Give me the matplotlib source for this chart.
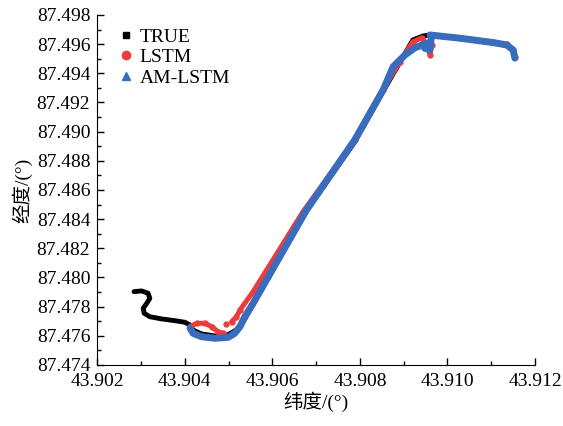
import matplotlib
matplotlib.use("Agg")
import matplotlib.pyplot as plt
from matplotlib.lines import Line2D
from matplotlib.ticker import MultipleLocator, FormatStrFormatter
import numpy as np

plt.rcParams['font.family'] = ['Liberation Serif', 'Noto Sans CJK SC', 'DejaVu Sans']

# TRUE trajectory (latitude, longitude)
true_lat = [43.90284, 43.90301, 43.90316, 43.90320, 43.90313, 43.90305, 43.90307,
            43.90320, 43.90347, 43.90377, 43.90400, 43.90412, 43.90419, 43.90438,
            43.90469, 43.90498, 43.90517, 43.90533, 43.90676, 43.90788, 43.90852,
            43.90921, 43.90944, 43.90960, 43.91028, 43.91103, 43.91135, 43.91149,
            43.91154]
true_lon = [87.47903, 87.47908, 87.47892, 87.47857, 87.47823, 87.47789, 87.47755,
            87.47731, 87.47716, 87.47704, 87.47693, 87.47674, 87.47640, 87.47613,
            87.47599, 87.47606, 87.47640, 87.47695, 87.48449, 87.48929, 87.49272,
            87.49629, 87.49656, 87.49663, 87.49639, 87.49608, 87.49591, 87.49560,
            87.49506]

# LSTM prediction (nan = gap between point groups)
lstm_lat = [43.90412, 43.90427, 43.90446, 43.90461, 43.90476, 43.90488, np.nan,
            43.90495, np.nan,
            43.90507, 43.90518, 43.90526, 43.90556, 43.90670, 43.90788, 43.90852,
            43.90891, 43.90921, 43.90941, 43.90955, 43.90960, 43.90964, 43.90962,
            43.91028, 43.91103, 43.91135, 43.91149, 43.91154]
lstm_lon = [87.47663, 87.47686, 87.47686, 87.47663, 87.47628, 87.47617, np.nan,
            87.47679, np.nan,
            87.47697, 87.47731, 87.47777, 87.47903, 87.48451, 87.48943, 87.49286,
            87.49478, 87.49616, 87.49643, 87.49595, 87.49527, 87.49596, 87.49657,
            87.49643, 87.49615, 87.49598, 87.49560, 87.49510]

# AM-LSTM prediction
am_lat = [43.90412, 43.90419, 43.90438, 43.90469, 43.90499, 43.90514, 43.90526,
          43.90537, 43.90556, 43.90678, 43.90788, 43.90853, 43.90876, 43.90903,
          43.90925, 43.90952, 43.90948, 43.90960, 43.90963, 43.90960, 43.91028,
          43.91104, 43.91135, 43.91150, 43.91154]
am_lon = [87.47652, 87.47617, 87.47594, 87.47583, 87.47590, 87.47617, 87.47663,
          87.47731, 87.47823, 87.48463, 87.48943, 87.49286, 87.49446, 87.49526,
          87.49574, 87.49606, 87.49572, 87.49560, 87.49652, 87.49663, 87.49641,
          87.49611, 87.49595, 87.49560, 87.49504]

c_true = 'black'
c_lstm = '#ef3b3b'
c_am = '#3a6cbd'

fig = plt.figure(figsize=(5.63, 4.26), dpi=100)
ax = fig.add_axes([0.1728, 0.1432, 0.7775, 0.8216])

ax.plot(true_lat, true_lon, c=c_true, lw=3.5, solid_capstyle='round', solid_joinstyle='round')
ax.plot(lstm_lat, lstm_lon, c=c_lstm, lw=3.6, marker='o', ms=3.5,
        solid_capstyle='round', solid_joinstyle='round')
ax.plot(am_lat, am_lon, c=c_am, lw=5, solid_capstyle='round', solid_joinstyle='round')

ax.set_xlim(43.902, 43.912)
ax.set_ylim(87.474, 87.498)
ax.xaxis.set_major_locator(MultipleLocator(0.002))
ax.xaxis.set_minor_locator(MultipleLocator(0.001))
ax.yaxis.set_major_locator(MultipleLocator(0.002))
ax.yaxis.set_minor_locator(MultipleLocator(0.001))
ax.xaxis.set_major_formatter(FormatStrFormatter('%.3f'))
ax.yaxis.set_major_formatter(FormatStrFormatter('%.3f'))
ax.tick_params(which='major', direction='in', length=5, width=1, labelsize=14)
ax.tick_params(which='minor', direction='in', length=3, width=1)
ax.tick_params(axis='x', which='major', pad=6)
ax.tick_params(axis='y', which='major', pad=5)
ax.spines['top'].set_visible(False)
ax.spines['right'].set_visible(False)

ax.set_xlabel('纬度/(°)', fontsize=14, labelpad=1)
ax.set_ylabel('经度/(°)', fontsize=14, labelpad=3)

handles = [Line2D([], [], ls='none', marker='s', color=c_true, ms=5),
           Line2D([], [], ls='none', marker='o', color=c_lstm, ms=6),
           Line2D([], [], ls='none', marker='^', color=c_am, ms=6)]
ax.legend(handles, ['TRUE', 'LSTM', 'AM-LSTM'], loc='upper left',
          bbox_to_anchor=(0.03, 0.985), frameon=False, fontsize=14,
          handlelength=0.8, handletextpad=0.3, labelspacing=0.15, borderaxespad=0)

fig.savefig('out.png', dpi=100)
